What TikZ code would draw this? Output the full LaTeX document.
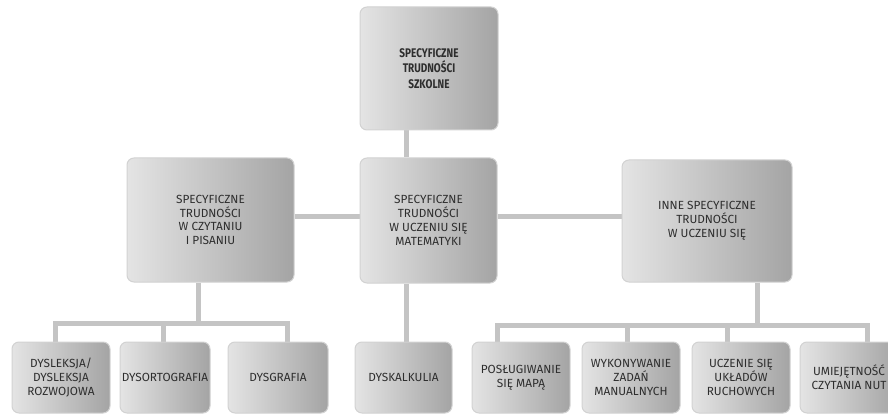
\documentclass[tikz,border=0pt]{standalone}
\usepackage{fontspec}
\setmainfont{Fira Sans}
\newfontfamily\topfont[FakeStretch=0.8]{Fira Sans}
\usetikzlibrary{backgrounds}
\definecolor{linec}{HTML}{C4C4C4}
\definecolor{txt}{HTML}{2E2E2E}
\definecolor{boxl}{HTML}{E4E4E4}
\definecolor{boxr}{HTML}{A4A4A4}
\definecolor{boxb}{HTML}{D2D2D2}
\begin{document}
\begin{tikzpicture}[x=1pt,y=-1pt,
  box/.style={draw=boxb, line width=1pt, rounded corners=7pt, left color=boxl, right color=boxr,
    text=txt, align=center, inner sep=0pt, font=\fontsize{11.8}{13.8}\selectfont},
  conn/.style={draw=linec, line width=5pt}]
\clip (0,0) rectangle (888,414);
% level 0 and 1
\node[box, minimum width=138, minimum height=123, font=\topfont\fontsize{12.5}{15.5}\selectfont\bfseries] (top) at (429,68.5) {SPECYFICZNE\\TRUDNOŚCI\\SZKOLNE};
\node[box, minimum width=167, minimum height=124] (lm) at (210.5,220) {SPECYFICZNE\\TRUDNOŚCI\\W CZYTANIU\\I PISANIU};
\node[box, minimum width=137, minimum height=125] (mid) at (428.5,220.5) {SPECYFICZNE\\TRUDNOŚCI\\W UCZENIU SIĘ\\MATEMATYKI};
\node[box, minimum width=170, minimum height=122] (rt) at (707,221) {INNE SPECYFICZNE\\TRUDNOŚCI\\W UCZENIU SIĘ};
% level 2
\node[box, minimum width=98, minimum height=71] (b1) at (61,377.5) {DYSLEKSJA/\\DYSLEKSJA\\ROZWOJOWA};
\node[box, minimum width=90, minimum height=71] (b2) at (165,377.5) {DYSORTOGRAFIA};
\node[box, minimum width=100, minimum height=71] (b3) at (278,377.5) {DYSGRAFIA};
\node[box, minimum width=97, minimum height=71] (b4) at (403.5,377.5) {DYSKALKULIA};
\node[box, minimum width=98, minimum height=71] (b5) at (521,377.5) {POSŁUGIWANIE\\SIĘ MAPĄ};
\node[box, minimum width=98, minimum height=71] (b6) at (631,377.5) {WYKONYWANIE\\ZADAŃ\\MANUALNYCH};
\node[box, minimum width=98, minimum height=71] (b7) at (741,377.5) {UCZENIE SIĘ\\UKŁADÓW\\RUCHOWYCH};
\node[box, minimum width=98, minimum height=71] (b8) at (849,377.5) {UMIEJĘTNOŚĆ\\CZYTANIA NUT};
% helper coordinates
\coordinate (vx) at (406,0);
\coordinate (hy) at (0,216);
\coordinate (lx) at (198,0);
\coordinate (lbus) at (0,323);
\coordinate (rx) at (757,0);
\coordinate (rbus) at (0,325);
\coordinate (l1) at (55,0);
\coordinate (l2) at (163,0);
\coordinate (l3) at (287,0);
\coordinate (r1) at (497,0);
\coordinate (r2) at (627,0);
\coordinate (r3) at (727,0);
\coordinate (r4) at (867,0);
\begin{scope}[on background layer]
\fill[white] (0,0) rectangle (888,414);
\draw[conn] (top.south -| vx) -- (mid.north -| vx);
\draw[conn] (lm.east |- hy) -- (mid.west |- hy);
\draw[conn] (mid.east |- hy) -- (rt.west |- hy);
\draw[conn] (mid.south -| vx) -- (b4.north -| vx);
% left group
\draw[conn] (lm.south -| lx) -- (lx |- lbus);
\draw[conn] (b1.north -| l1) -- (l1 |- lbus) -- (l3 |- lbus) -- (b3.north -| l3);
\draw[conn] (l2 |- lbus) -- (b2.north -| l2);
% right group
\draw[conn] (rt.south -| rx) -- (rx |- rbus);
\draw[conn] (b5.north -| r1) -- (r1 |- rbus) -- (r4 |- rbus) -- (b8.north -| r4);
\draw[conn] (r2 |- rbus) -- (b6.north -| r2);
\draw[conn] (r3 |- rbus) -- (b7.north -| r3);
\end{scope}
\end{tikzpicture}
\end{document}
